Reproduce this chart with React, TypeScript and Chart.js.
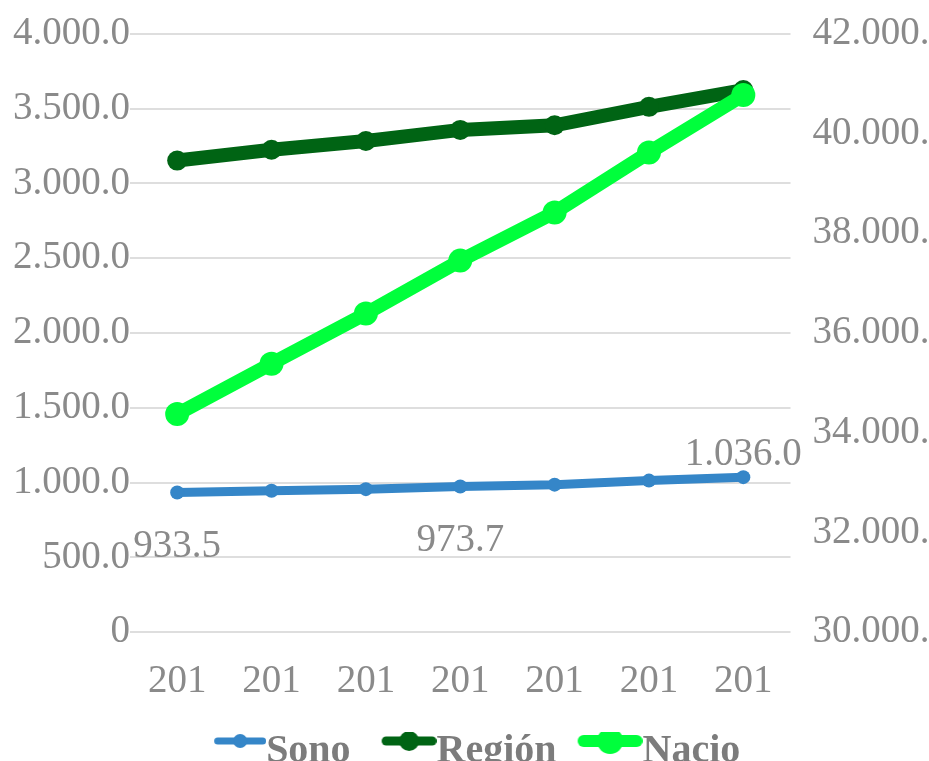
import React, { useEffect, useRef } from 'react';
import { Chart, registerables } from 'chart.js';

Chart.register(...registerables);

// ---- Data ----
const categories = ['201', '201', '201', '201', '201', '201', '201'];
const sonoraValues = [933.5, 945, 956, 973.7, 986, 1013, 1036.0];
const regionValues = [3152, 3224, 3283, 3357, 3388, 3511, 3623];
const nacionalValues = [34373, 35384, 36388, 37450, 38416, 39618, 40769];
const seriesNames = ['Sono', 'Región', 'Nacio'];
const seriesColors = ['#3586c8', '#006414', '#00ff3c'];
const leftAxisRange = [0, 4000, 500];
const rightAxisRange = [30000, 42000, 2000];
const sonoLabelIndices = [0, 3, 6];
const sonoLabelPlacement = ['below', 'below', 'above'];

const FONT = "'Liberation Serif', 'Times New Roman', serif";
const GRAY = '#8a8a8a';

function fmt(v: number): string {
  if (v === 0) return '0';
  const fixed = Math.abs(v).toFixed(1);
  const [intPart, dec] = fixed.split('.');
  const grouped = intPart.replace(/\B(?=(\d{3})+(?!\d))/g, '.');
  return (v < 0 ? '-' : '') + grouped + '.' + dec;
}

const PW = 66; // legend pointStyleWidth
const LEG_FONT = 40;

function makeMarker(color: string, len: number, thick: number, r: number): HTMLCanvasElement {
  const half = LEG_FONT / 2;
  const iw = 2 * (PW / 2 + half);
  const ih = 60;
  const c = document.createElement('canvas');
  c.width = iw;
  c.height = ih;
  const ctx = c.getContext('2d')!;
  const cy = ih / 2 - 11;
  const x0 = iw - len;
  ctx.strokeStyle = color;
  ctx.fillStyle = color;
  ctx.lineWidth = thick;
  ctx.lineCap = 'round';
  ctx.beginPath();
  ctx.moveTo(x0 + thick / 2, cy);
  ctx.lineTo(iw - thick / 2, cy);
  ctx.stroke();
  ctx.beginPath();
  ctx.arc(x0 + len / 2, cy, r, 0, Math.PI * 2);
  ctx.fill();
  return c;
}

const dataLabelPlugin = {
  id: 'sonoLabels',
  afterDatasetsDraw(chart: any) {
    const meta = chart.getDatasetMeta(0);
    const ctx = chart.ctx;
    ctx.save();
    ctx.font = `39px ${FONT}`;
    ctx.fillStyle = GRAY;
    ctx.textAlign = 'center';
    ctx.textBaseline = 'middle';
    sonoLabelIndices.forEach((idx, k) => {
      const pt = meta.data[idx];
      if (!pt) return;
      const dy = sonoLabelPlacement[k] === 'below' ? 54 : -22;
      ctx.fillText(fmt(sonoraValues[idx]), pt.x, pt.y + dy);
    });
    ctx.restore();
  },
};

export default function App() {
  const ref = useRef<HTMLCanvasElement | null>(null);

  useEffect(() => {
    if (!ref.current) return;
    const markers = [
      makeMarker(seriesColors[0], 52, 7, 7),
      makeMarker(seriesColors[1], 55, 9, 10),
      makeMarker(seriesColors[2], 65, 12, 13),
    ];
    const chart = new Chart(ref.current, {
      type: 'line',
      data: {
        labels: categories,
        datasets: [
          {
            label: seriesNames[0],
            data: sonoraValues,
            yAxisID: 'y',
            borderColor: seriesColors[0],
            backgroundColor: seriesColors[0],
            borderWidth: 9,
            pointRadius: 7,
            pointBorderWidth: 0,
            tension: 0,
            order: 2,
          },
          {
            label: seriesNames[1],
            data: regionValues,
            yAxisID: 'y',
            borderColor: seriesColors[1],
            backgroundColor: seriesColors[1],
            borderWidth: 14,
            pointRadius: 10,
            pointBorderWidth: 0,
            tension: 0,
            order: 1,
          },
          {
            label: seriesNames[2],
            data: nacionalValues,
            yAxisID: 'y1',
            borderColor: seriesColors[2],
            backgroundColor: seriesColors[2],
            borderWidth: 14,
            pointRadius: 12,
            pointBorderWidth: 0,
            tension: 0,
            order: 0,
          },
        ],
      },
      options: {
        responsive: false,
        animation: false,
        layout: { padding: { left: 13, right: 3, top: 32, bottom: 0 } },
        plugins: {
          tooltip: { enabled: false },
          legend: {
            position: 'bottom',
            fullSize: false,
            labels: {
              usePointStyle: true,
              pointStyleWidth: PW,
              padding: 0,
              color: '#7c7c7c',
              font: { family: FONT, size: LEG_FONT, weight: 'bold' },
              generateLabels: (ch: any) =>
                ch.data.datasets.map((ds: any, i: number) => ({
                  text: ds.label,
                  pointStyle: markers[i],
                  fillStyle: ds.backgroundColor,
                  strokeStyle: ds.borderColor,
                  lineWidth: 0,
                  datasetIndex: i,
                  hidden: false,
                  fontColor: '#7c7c7c',
                })),
            },
          },
        },
        scales: {
          x: {
            offset: true,
            grid: { display: false, drawTicks: false },
            border: { display: false },
            ticks: {
              color: GRAY,
              font: { family: FONT, size: 39, lineHeight: 0.56 },
              padding: 39,
              maxRotation: 0,
              autoSkip: false,
            },
          },
          y: {
            position: 'left',
            min: leftAxisRange[0],
            max: leftAxisRange[1],
            grid: { color: '#dedede', lineWidth: 2, drawTicks: false },
            border: { display: false },
            ticks: {
              stepSize: leftAxisRange[2],
              color: GRAY,
              font: { family: FONT, size: 39, lineHeight: 0.6 },
              padding: 0,
              callback: (v: any) => fmt(Number(v)),
            },
          },
          y1: {
            position: 'right',
            min: rightAxisRange[0],
            max: rightAxisRange[1],
            grid: { display: false, drawTicks: false },
            border: { display: false },
            ticks: {
              stepSize: rightAxisRange[2],
              color: GRAY,
              font: { family: FONT, size: 39, lineHeight: 0.6 },
              padding: 22,
              callback: (v: any) => fmt(Number(v)),
            },
          },
        },
      },
      plugins: [dataLabelPlugin],
    } as any);
    return () => chart.destroy();
  }, []);

  return (
    <div style={{ position: 'fixed', left: 0, top: 0, width: 929, height: 761, overflow: 'hidden', background: '#fff' }}>
      <canvas ref={ref} width={974} height={782} style={{ width: 974, height: 782, display: 'block' }} />
    </div>
  );
}
